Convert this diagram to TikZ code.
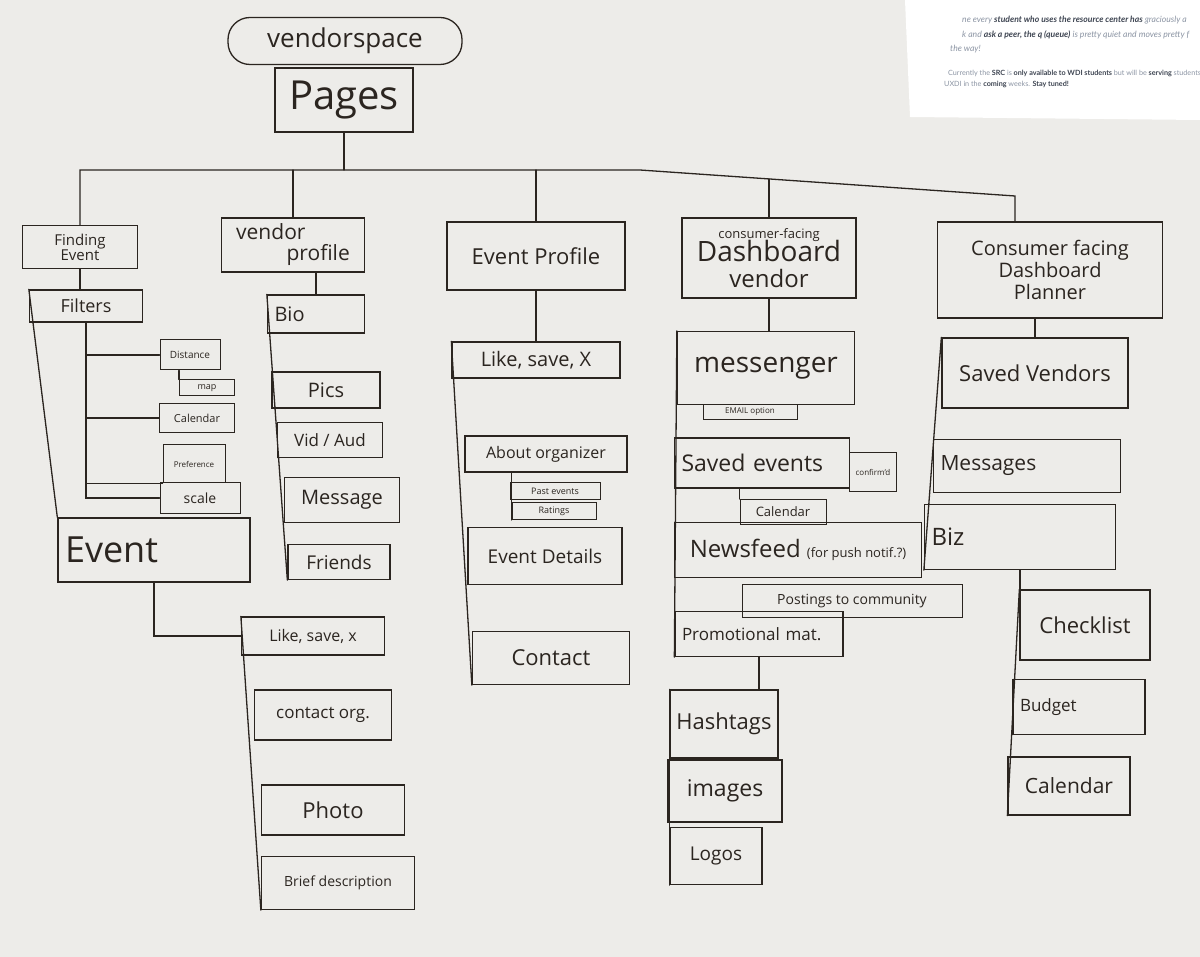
\documentclass[tikz,border=0pt]{standalone}
\usepackage{fontspec}
\setmainfont{Open Sans}
\newfontfamily\sheetfont{Lato}
\usetikzlibrary{positioning}
\definecolor{ink}{HTML}{2B2520}
\definecolor{board}{HTML}{EDECE9}
\definecolor{sheetgrey}{HTML}{8C95A4}
\definecolor{sheetdark}{HTML}{3E4552}

\begin{document}
\begin{tikzpicture}[
    x=1pt, y=-1pt,
    hand/.style={font=\fontsize{#1}{#1}\selectfont},
    box_size/.style 2 args={minimum width=#1pt, minimum height=#2pt},
    left_box/.style={align=left, inner xsep=7pt, text width=#1pt},
    page_box/.style={draw=ink, line width=1.3pt, text=ink, inner sep=3pt, align=center},
    tag_box/.style={page_box, line width=1pt, inner sep=1pt},
    link/.style={draw=ink, line width=1.3pt, line cap=round},
    sheet_text/.style={anchor=west, inner sep=0pt, text=sheetgrey},
    ]

    % --- Whiteboard ---
    \useasboundingbox (0,0) rectangle (1200,957);
    \fill[board] (0,0) rectangle (1200,957);

    % --- Printed sheet in the corner ---
    \begin{scope}
      \clip (905,0) rectangle (1200,120);
      \fill[white] (905,0) -- (1200,0) -- (1200,120) -- (910,117) -- cycle;
      \node[sheet_text, font=\sheetfont\itshape\fontsize{8.6}{8.6}\selectfont] (sheet_a) at (962,20)
        {ne every \textcolor{sheetdark}{\bfseries student who uses the resource center has} graciously a};
      \node[sheet_text, font=\sheetfont\itshape\fontsize{8.6}{8.6}\selectfont] (sheet_b) at (962,35)
        {k and \textcolor{sheetdark}{\bfseries ask a peer, the q (queue)} is pretty quiet and moves pretty f};
      \node[sheet_text, font=\sheetfont\itshape\fontsize{8.6}{8.6}\selectfont] (sheet_c) at (950,49)
        {the way!};
      \node[sheet_text, font=\sheetfont\fontsize{7.2}{7.2}\selectfont] (sheet_d) at (948,73)
        {Currently the \textcolor{sheetdark}{\bfseries SRC} is \textcolor{sheetdark}{\bfseries only available to WDI students} but will be \textcolor{sheetdark}{\bfseries serving} students};
      \node[sheet_text, font=\sheetfont\fontsize{7.2}{7.2}\selectfont] (sheet_e) at (944,84)
        {UXDI in the \textcolor{sheetdark}{\bfseries coming} weeks. \textcolor{sheetdark}{\bfseries Stay tuned!}};
    \end{scope}

    % --- Top of the site map ---
    \node[page_box, rounded corners=22pt, box_size={234}{47}, hand=26] (space) at (345,41) {vendorspace};
    \node[page_box, box_size={138}{64}, hand=40] (pages) at (344,100) {Pages};

    % --- Sections ---
    \node[page_box, box_size={115}{43}, hand=15] (finding) at (80,247) {Finding\\Event};
    \node[page_box, box_size={143}{54}, hand=21, align=left] (vprofile) at (293,245) {vendor\\\hspace*{2.4em}profile};
    \node[page_box, box_size={178}{68}, hand=22] (eprofile) at (536,256) {Event Profile};
    \node[page_box, box_size={174}{80}, hand=24, inner sep=1pt] (dvendor) at (769,258)
      {{\fontsize{13}{13}\selectfont consumer-facing}\\[-2pt]{\fontsize{28}{28}\selectfont Dashboard}\\[2pt]vendor};
    \node[page_box, box_size={225}{96}, hand=20] (dplanner) at (1050,270) {Consumer facing\\[2pt]Dashboard\\[2pt]Planner};

    % --- Finding event ---
    \node[page_box, box_size={113}{32}, hand=18] (filters) at (86,306) {Filters};
    \node[tag_box, box_size={60}{30}, hand=10] (distance) at (190,355) {Distance};
    \node[tag_box, box_size={55}{16}, hand=9] (map) at (207,388) {map};
    \node[tag_box, box_size={75}{29}, hand=11] (fcal) at (197,418) {Calendar};
    \node[tag_box, box_size={62}{38}, hand=8] (prefer) at (194,464) {Preference};
    \node[tag_box, box_size={80}{30}, hand=14] (scale) at (200,498) {scale};
    \node[page_box, left_box=178, minimum height=64pt, hand=36] (event) at (154,550) {Event};
    \node[page_box, box_size={143}{38}, hand=16] (elike) at (313,636) {Like, save, x};
    \node[page_box, box_size={137}{50}, hand=17] (econtact) at (323,715) {contact org.};
    \node[page_box, box_size={143}{50}, hand=22] (ephoto) at (333,810) {Photo};
    \node[page_box, box_size={153}{53}, hand=14] (ebrief) at (338,883) {Brief description};

    % --- Vendor profile ---
    \node[page_box, left_box=83, minimum height=38pt, hand=20] (bio) at (316,314) {Bio};
    \node[page_box, box_size={108}{36}, hand=20] (pics) at (326,390) {Pics};
    \node[page_box, box_size={105}{35}, hand=17] (vidaud) at (330,440) {Vid / Aud};
    \node[page_box, box_size={115}{45}, hand=20] (vmsg) at (342,500) {Message};
    \node[page_box, box_size={102}{35}, hand=19] (friends) at (339,562) {Friends};

    % --- Event profile ---
    \node[page_box, box_size={168}{36}, hand=20] (eplike) at (536,360) {Like, save, X};
    \node[page_box, box_size={162}{36}, hand=16] (about) at (546,454) {About organizer};
    \node[tag_box, box_size={90}{17}, hand=9] (past) at (555,491) {Past events};
    \node[tag_box, box_size={84}{17}, hand=9] (ratings) at (554,511) {Ratings};
    \node[page_box, box_size={154}{57}, hand=19] (details) at (545,556) {Event Details};
    \node[page_box, box_size={157}{53}, hand=22] (contact) at (551,658) {Contact};

    % --- Consumer-facing dashboard: vendor ---
    \node[page_box, box_size={177}{73}, hand=28] (messenger) at (766,368) {messenger};
    \node[tag_box, box_size={94}{15}, hand=8] (email) at (750,412) {EMAIL option};
    \node[page_box, left_box=161, minimum height=50pt, hand=23] (saved) at (762,463) {Saved events};
    \node[tag_box, box_size={47}{39}, hand=8] (confirmed) at (873,472) {confirm'd};
    \node[tag_box, box_size={86}{25}, hand=13] (dcal) at (783,512) {Calendar};
    \node[page_box, box_size={247}{55}, hand=24] (newsfeed) at (798,550)
      {Newsfeed {\fontsize{13}{13}\selectfont(for push notif.?)}};
    \node[tag_box, box_size={220}{33}, hand=14] (postings) at (852,601) {Postings to community};
    \node[page_box, left_box=154, minimum height=45pt, hand=17] (promo) at (759,634) {Promotional mat.};
    \node[page_box, box_size={108}{68}, hand=22] (hashtags) at (724,724) {Hashtags};
    \node[page_box, box_size={114}{62}, hand=23] (images) at (725,791) {images};
    \node[page_box, box_size={92}{57}, hand=19] (logos) at (716,856) {Logos};

    % --- Consumer facing dashboard: planner ---
    \node[page_box, box_size={186}{70}, hand=22] (savedv) at (1035,373) {Saved Vendors};
    \node[page_box, left_box=173, minimum height=53pt, hand=21] (messages) at (1027,466) {Messages};
    \node[page_box, left_box=177, minimum height=65pt, hand=24] (biz) at (1020,537) {Biz};
    \node[page_box, box_size={130}{70}, hand=22] (checklist) at (1085,625) {Checklist};
    \node[page_box, left_box=118, minimum height=55pt, hand=17] (budget) at (1079,707) {Budget};
    \node[page_box, box_size={122}{58}, hand=21] (pcal) at (1069,786) {Calendar};

    % --- Connectors: Pages to the sections ---
    \draw[link] (pages.south) -- (pages.south |- 0,170);
    \draw[link] (finding.north) -- (finding.north |- 0,170) -- (640,170) -- (1015,196) -- (dplanner.north -| 1015,0);
    \draw[link] (vprofile.north) -- (vprofile.north |- 0,170);
    \draw[link] (eprofile.north) -- (eprofile.north |- 0,170);
    \draw[link] (dvendor.north) -- (dvendor.north |- 0,179);

    % --- Connectors: finding event ---
    \draw[link] (finding.south) -- (finding.south |- filters.north);
    \draw[link] (filters.north west) -- (event.north west);
    \draw[link] (filters.south) |- (distance.west);
    \draw[link] (filters.south) |- (fcal.west);
    \draw[link] (filters.south) |- (prefer.south west);
    \draw[link] (filters.south) |- (scale.west);
    \draw[link] (map.north west) -- (map.north west |- distance.south);
    \draw[link] (event.south) |- (elike.west);
    \draw[link] (elike.north west) -- (ebrief.south west);

    % --- Connectors: vendor profile ---
    \draw[link] (bio.north) -- (bio.north |- vprofile.south);
    \draw[link] (bio.north west) -- (friends.south west);

    % --- Connectors: event profile ---
    \draw[link] (eplike.north) -- (eplike.north |- eprofile.south);
    \draw[link] (eplike.north west) -- (contact.south west);
    \draw[link] (ratings.south west) -- (ratings.south west |- about.south);

    % --- Connectors: dashboards ---
    \draw[link] (dvendor.south) -- (dvendor.south |- messenger.north);
    \draw[link] (messenger.north west) -- (promo.south west);
    \draw[link] (dcal.north west) -- (dcal.north west |- saved.south);
    \draw[link] (promo.south) -- (promo.south |- hashtags.north);
    \draw[link] (hashtags.north west) -- (logos.south west);
    \draw[link] (savedv.north) -- (savedv.north |- dplanner.south);
    \draw[link] (savedv.north west) -- (biz.south west);
    \draw[link] (biz.south) -- (biz.south |- checklist.north);
    \draw[link] (checklist.north west) -- (pcal.south west);

\end{tikzpicture}
\end{document}
